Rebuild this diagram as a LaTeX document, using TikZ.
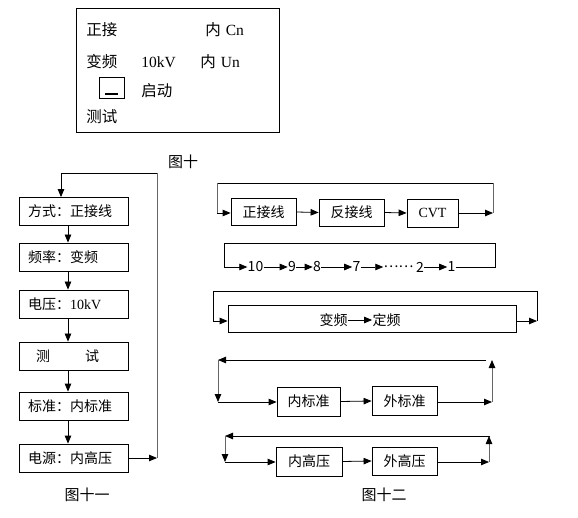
\documentclass[tikz,border=0pt]{standalone}
\usepackage{fontspec}
\setmainfont{Liberation Serif}
\newfontfamily\cjk{Noto Sans CJK SC}
\newfontfamily\lat{Liberation Serif}
\usetikzlibrary{arrows.meta,calc}
\begin{document}
\begin{tikzpicture}[x=1pt,y=-1pt,line width=0.8pt,
  every node/.style={font=\cjk\fontsize{14}{16}\selectfont, inner sep=0pt},
  big/.style={font=\cjk\fontsize{15.5}{18}\selectfont},
  figcap/.style={font=\cjk\fontsize{15}{18}\selectfont},
  arr/.style={-{Triangle[length=8pt,width=6.5pt,color=black]}},
  gline/.style={draw=black!60},
  lbox/.style={draw, minimum height=28pt, inner xsep=9pt, text width=91pt, align=left},
  fbox/.style={draw, minimum height=28pt, inner sep=0pt}]
\useasboundingbox (0,0) rectangle (578,518);

% ---------- Figure 10 ----------
\node[draw, minimum width=203pt, minimum height=124pt, anchor=north west] (f10) at (76,8) {};
\node[big, anchor=west] (t1) at (86,30) {正接};
\node[big, anchor=west] (t2) at (205,30) {内\hspace{5pt}{\lat Cn}};
\node[big, anchor=west] (t3) at (86,62) {变频};
\node[big, anchor=west] (t4) at (141,62) {\lat 10kV};
\node[big, anchor=west] (t5) at (200,62) {内\hspace{5pt}{\lat Un}};
\node[draw, minimum width=25pt, minimum height=21pt] (btn) at (111.5,87.5) {};
\draw[line width=1.8pt] ($(btn.south)+(-6.5,-4)$) -- ++(13,0);
\node[big, anchor=west] (t6) at (141,91) {启动};
\node[big, anchor=west] (t7) at (86,117) {测试};
\node[figcap] (c10) at (183,162) {图十};

% ---------- Figure 11 ----------
\node[lbox] (b1) at (73.5,211.5) {方式：正接线};
\node[lbox] (b2) at (73.5,257) {频率：变频};
\node[lbox] (b3) at (73.5,304) {电压：{\lat 10kV}};
\node[lbox] (b4) at (73.5,356) {\hspace*{8pt}测\hspace{35pt}试};
\node[lbox] (b5) at (73.5,406) {标准：内标准};
\node[lbox] (b6) at (73.5,458) {电源：内高压};
\foreach \a/\b in {b1/b2,b2/b3,b3/b4,b4/b5,b5/b6}
  \draw[arr] ($(\a.south)+(-5.5,0)$) -- ($(\b.north)+(-5.5,0)$);
\coordinate (r1) at (157,458);
\coordinate (r2) at (157,173);
\coordinate (l1) at (61,173);
\draw[arr] (b6.east) -- (r1);
\draw[gline] (r1) -- (r2);
\draw (r2) -- (l1);
\draw[arr] (l1) -- (l1 |- b1.north);
\node[figcap] (c11) at (87,495) {图十一};

% ---------- Figure 12 ----------
% row 1
\node[fbox, minimum width=65pt, minimum height=27pt] (zj) at (263.5,212) {正接线};
\node[fbox, minimum width=65pt, minimum height=27pt] (fj) at (351.5,212.5) {反接线};
\node[fbox, minimum width=51pt] (cvt) at (432.5,213) {\lat CVT};
\coordinate (p1a) at (217,183);
\coordinate (p1b) at (217,213);
\coordinate (q1a) at (493,183);
\coordinate (q1b) at (493,213);
\draw[arr] (zj.east) -- (fj.west);
\draw[arr] (fj.east) -- (cvt.west);
\draw[arr] (cvt.east) -- (q1b);
\draw[gline] (q1b) -- (q1a);
\draw (q1a) -- (p1a);
\draw[gline] (p1a) -- (p1b);
\draw[arr] (p1b) -- (zj.west |- p1b);

% row 2
\node (n10) at (255.5,267) {10};
\node (n9) at (292,267) {9};
\node (n8) at (317,267) {8};
\node (n7) at (356.5,267) {7};
\node (nd) at (398.5,267) {……};
\node (n2) at (420,267) {2};
\node (n1) at (451.5,267) {1};
\coordinate (p2a) at (224,243);
\coordinate (p2b) at (224,267);
\coordinate (q2a) at (495,243);
\coordinate (q2b) at (495,267);
\draw[arr] (n1.east) -- (q2b) -- (q2a) -- (p2a) -- (p2b) -- (n10.west);
\draw[arr] (n10.east) -- (n9.west);
\draw[arr] (n9.east) -- (n8.west);
\draw[arr] (n8.east) -- (n7.west);
\draw[arr] (n7.east) -- (nd.west);
\draw[arr] (n2.east) -- (n1.west);

% row 3
\node[fbox, minimum width=288pt, minimum height=27pt] (bx3) at (372,318.5) {};
\node (vf) at (333.5,320) {变频};
\node (df) at (386.5,320) {定频};
\draw[arr] (vf.east) -- (df.west);
\coordinate (p3a) at (213,291);
\coordinate (p3b) at (213,321);
\coordinate (q3a) at (537,291);
\coordinate (q3b) at (537,321);
\draw (q3b) -- (q3a) -- (p3a) -- (p3b);
\draw[arr] (p3b) -- (bx3.west |- p3b);
\draw[arr] (bx3.east |- q3b) -- (q3b);

% row 4
\node[fbox, minimum width=63pt, minimum height=29pt] (nb) at (308.5,401.5) {内标准};
\node[fbox, minimum width=65pt, minimum height=29pt] (wb) at (404.5,401) {外标准};
\coordinate (a4) at (218,402);
\coordinate (b4c) at (218,360);
\coordinate (c4) at (486,360);
\coordinate (d4) at (492,402);
\coordinate (e4) at (492,360);
\draw[arr] (c4) -- (b4c);
\draw[arr, gline] (b4c) -- (a4);
\draw[arr] (a4) -- (nb.west |- a4);
\draw[arr] (nb.east) -- (wb.west);
\draw[arr] (wb.east |- d4) -- (d4);
\draw[arr, gline] (d4) -- (e4);

% row 5
\node[fbox, minimum width=66pt, minimum height=29pt] (nh) at (309,461.5) {内高压};
\node[fbox, minimum width=65pt, minimum height=28pt] (wh) at (404.5,461) {外高压};
\coordinate (a5) at (225,462);
\coordinate (b5) at (225,436);
\coordinate (c5) at (490,436);
\coordinate (d5) at (489,462);
\coordinate (e5) at (489,436);
\draw[arr] (c5) -- (b5);
\draw[arr, gline] (b5) -- (a5);
\draw[arr] (a5) -- (nh.west |- a5);
\draw[arr] (nh.east) -- (wh.west);
\draw[arr] (wh.east |- d5) -- (d5);
\draw[arr, gline] (d5) -- (e5);
\node[figcap] (c12) at (384,495) {图十二};
\end{tikzpicture}
\end{document}
